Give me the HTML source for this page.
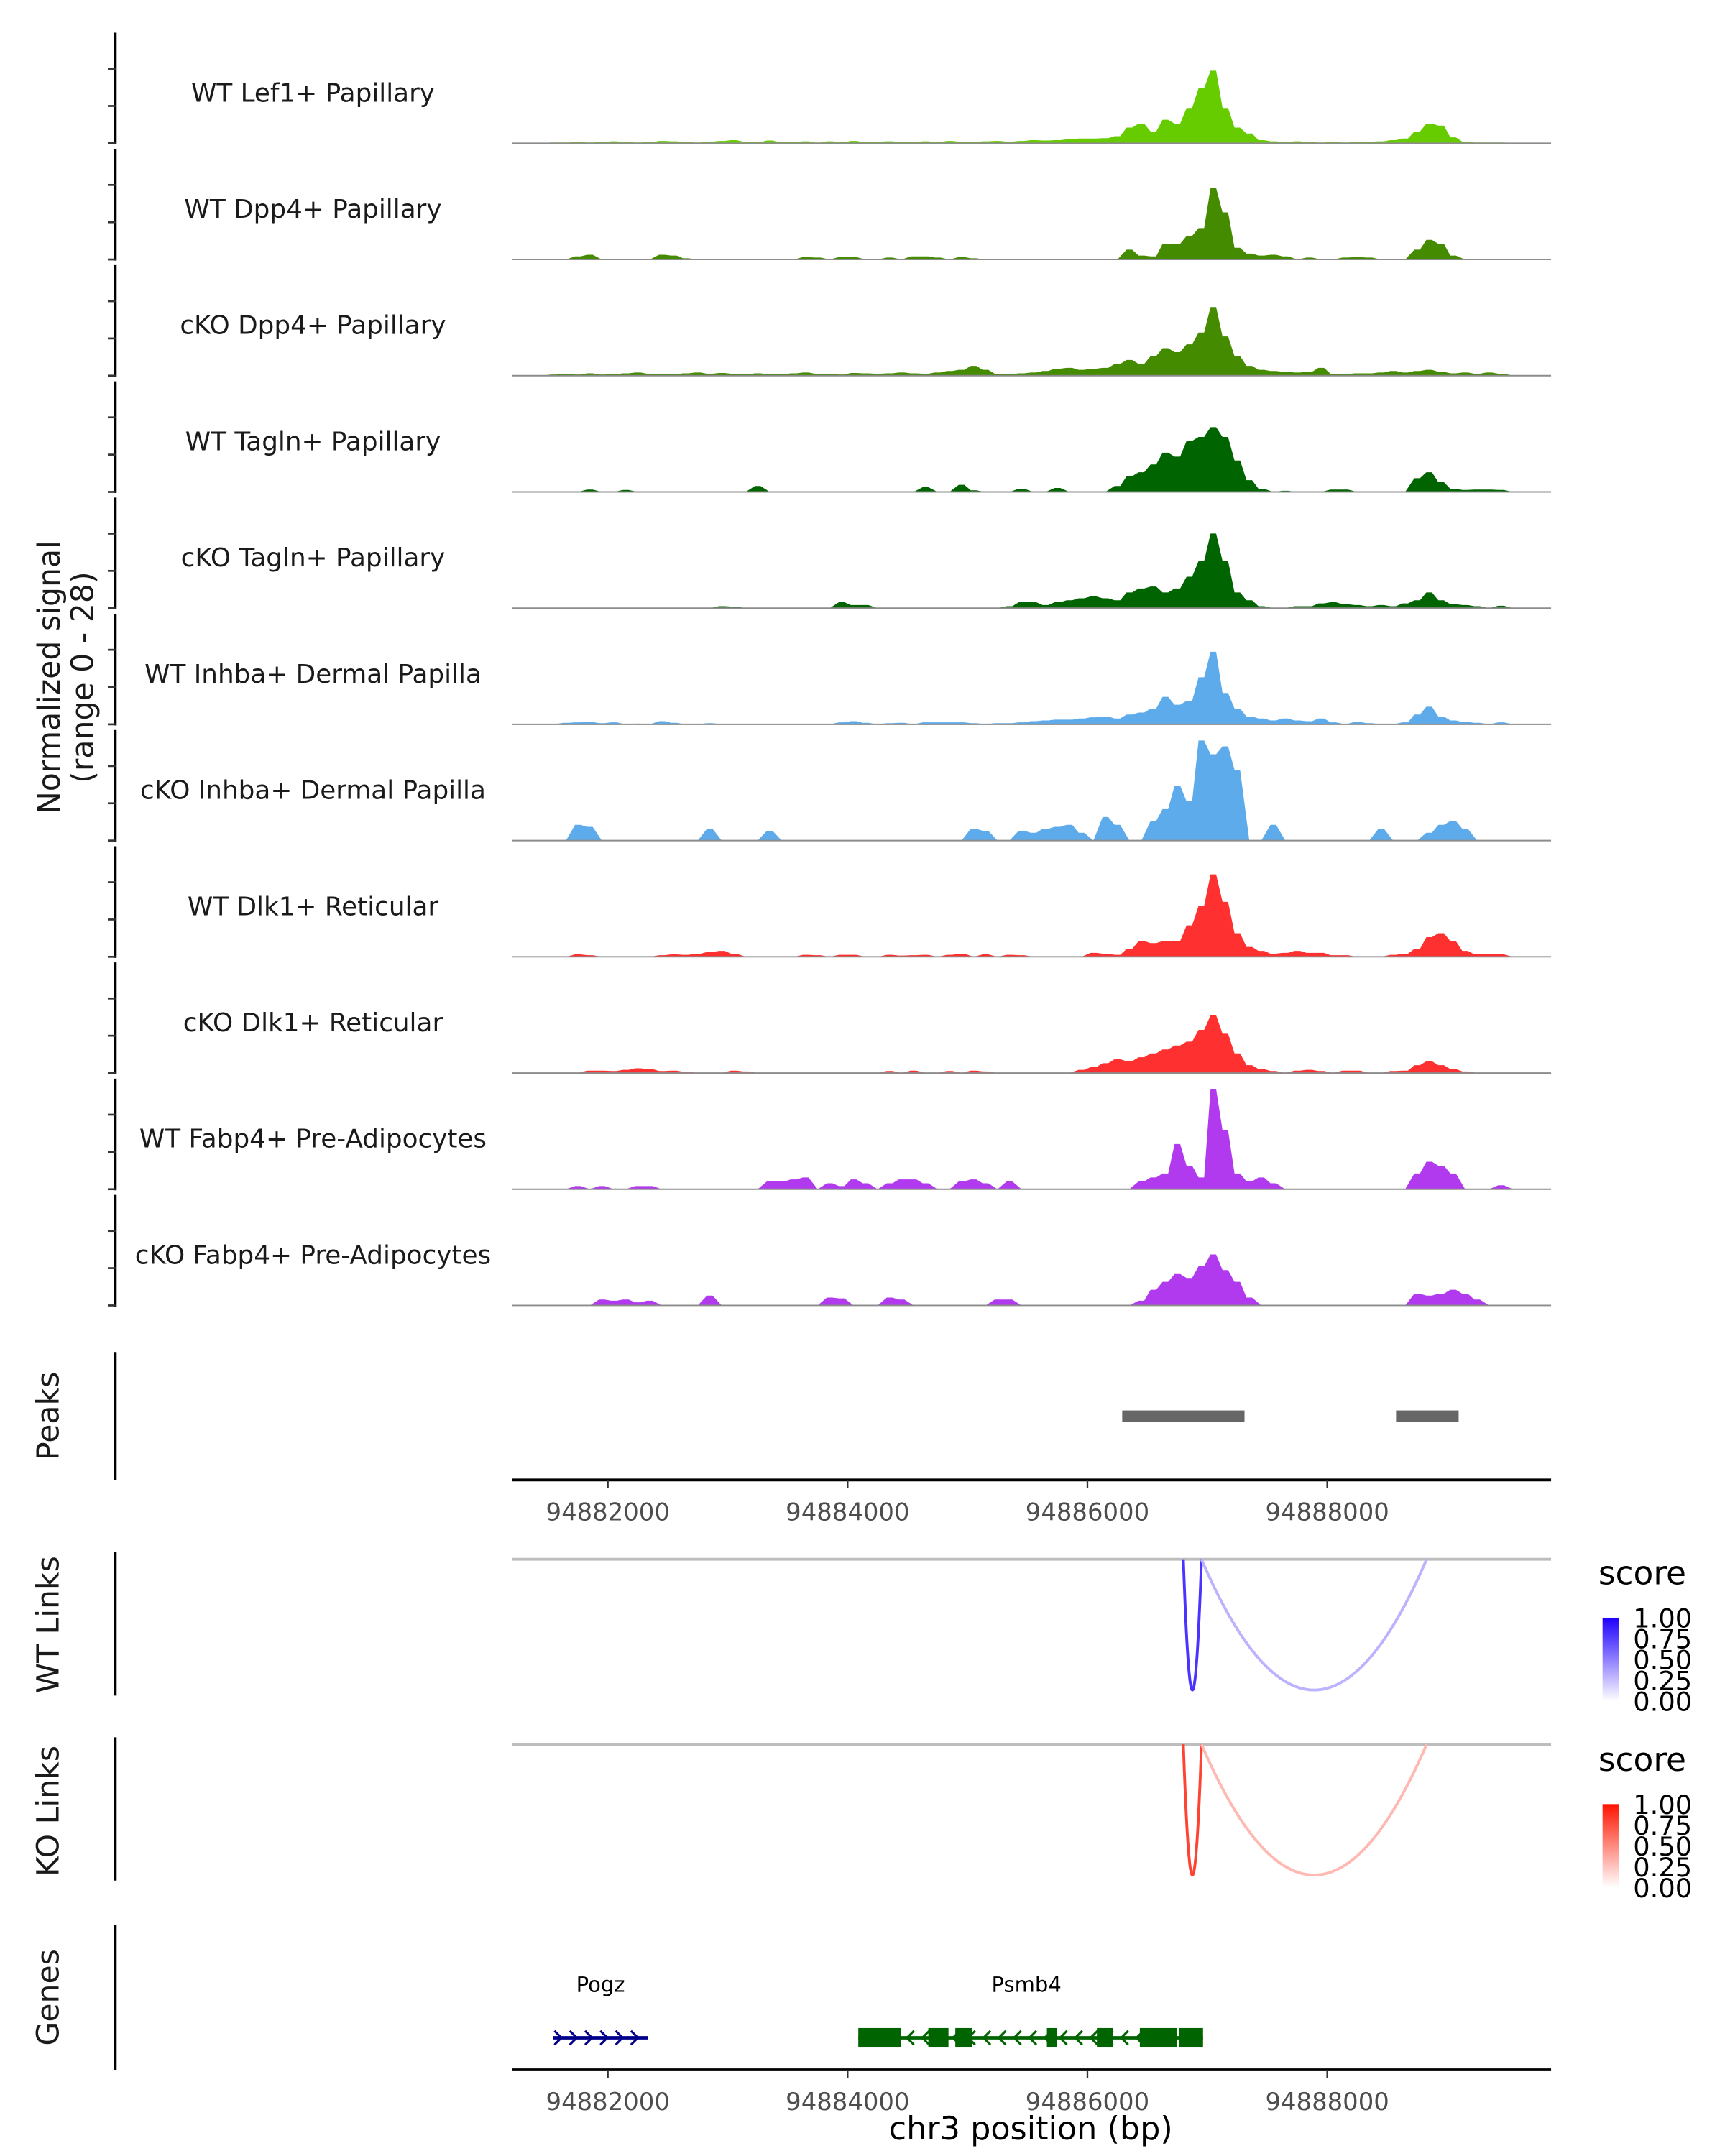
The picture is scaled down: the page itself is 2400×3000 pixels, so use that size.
<!DOCTYPE html>
<html><head><meta charset="utf-8"><style>
html,body{margin:0;padding:0;background:#fff;}
svg{display:block;font-family:"DejaVu Sans","Liberation Sans",sans-serif;}
</style></head><body>
<svg id="chart" width="2400" height="3000" viewBox="0 0 1240 1550" xmlns="http://www.w3.org/2000/svg">
<rect x="0" y="0" width="1240" height="1550" fill="#fff"/>
<g id="g-signal"></g>
<g id="g-peaks"></g>
<g id="g-links"></g>
<g id="g-genes"></g>
<text transform="translate(43,487) rotate(-90)" text-anchor="middle" font-size="22" fill="#1a1a1a">Normalized signal</text>
<text transform="translate(67,487) rotate(-90)" text-anchor="middle" font-size="22" fill="#1a1a1a">(range 0 - 28)</text>
<text transform="translate(42,1018) rotate(-90)" text-anchor="middle" font-size="22" fill="#1a1a1a">Peaks</text>
<text transform="translate(42,1168) rotate(-90)" text-anchor="middle" font-size="22" fill="#1a1a1a">WT Links</text>
<text transform="translate(42,1302) rotate(-90)" text-anchor="middle" font-size="22" fill="#1a1a1a">KO Links</text>
<text transform="translate(42,1436) rotate(-90)" text-anchor="middle" font-size="22" fill="#1a1a1a">Genes</text>
<text x="741" y="1538" text-anchor="middle" font-size="23" fill="#000">chr3 position (bp)</text>
</svg>
<script>
const NS="http://www.w3.org/2000/svg";
const trackNames=["WT Lef1+ Papillary","WT Dpp4+ Papillary","cKO Dpp4+ Papillary","WT Tagln+ Papillary","cKO Tagln+ Papillary","WT Inhba+ Dermal Papilla","cKO Inhba+ Dermal Papilla","WT Dlk1+ Reticular","cKO Dlk1+ Reticular","WT Fabp4+ Pre-Adipocytes","cKO Fabp4+ Pre-Adipocytes"];
const trackColors=["#66cc00","#458b00","#458b00","#006400","#006400","#5eabeb","#5eabeb","#ff3030","#ff3030","#b23aee","#b23aee"];
const binStart=94881400, binSize=100;
const sigLef1=[0,0.2,0.2,0.3,0.2,0.3,0.5,0.3,0.2,0.3, 0.6,0.5,0.3,0.2,0.4,0.6,0.8,0.4,0.3,0.7, 0.3,0.3,0.5,0.2,0.5,0.3,0.6,0.3,0.4,0.5, 0.3,0.3,0.5,0.3,0.6,0.4,0.3,0.5,0.6,0.4, 0.6,0.8,0.7,0.8,1.0,1.2,1.2,1.3,1.8,4, 5,3,6,5,9,14,18.5,9,4,2.5, 0.8,0.5,0.3,0.5,0.3,0.2,0.3,0.2,0.3,0.4, 0.5,0.8,1.2,3,5,4.5,1.5,0.4,0.2,0.2, 0.2,0];
const sigWTDpp4=[0,0,0,0.8,1.2,0,0,0,0,0, 1.2,1.0,0.3,0,0,0,0,0,0,0, 0,0,0.6,0.5,0,0.6,0.6,0,0,0.5, 0,0.8,0.8,0.5,0,0.6,0.3,0,0,0, 0,0,0,0,0,0,0,0,0,2.5, 1,0.8,4,4,6,8,18.2,12,3,1.5, 1,1.2,0.8,0,0.5,0,0,0.5,0.6,0.5, 0,0,0,2.5,5,4,1,0,0,0, 0,0];
const sigKODpp4=[0,0.3,0.5,0.3,0.6,0.3,0.4,0.6,0.8,0.5, 0.5,0.4,0.6,0.8,0.5,0.7,0.5,0.4,0.6,0.4, 0.4,0.6,0.8,0.5,0.4,0.3,0.7,0.6,0.5,0.6, 0.8,0.6,0.5,0.8,1.2,1.5,2.5,1.5,0.5,0.4, 0.6,0.8,1.2,1.8,2,1.5,1.8,2,3,4, 3,5,7,6,8,11,17.5,10,5,2.5, 1.5,1.2,1.0,0.8,1.0,2.0,0.5,0.4,0.6,0.6, 0.8,1.2,0.8,1.2,1.5,1.0,0.6,0.8,0.5,0.8, 0.5,0];
const sigWTTagln=[0,0,0,0,0.6,0,0,0.5,0,0, 0,0,0,0,0,0,0,0,1.5,0, 0,0,0,0,0,0,0,0,0,0, 0,0,1.2,0,0,1.8,0.4,0,0,0, 0.8,0,0,1.0,0,0,0,0,1.5,4, 5,7,10,9,13,14,16.5,14,8,3, 0.8,0,0.3,0,0,0,0.6,0.6,0,0, 0,0,0,3.5,5,2.5,0.8,0.5,0.6,0.6, 0.5,0];
const sigKOTagln=[0,0,0,0,0,0,0,0,0,0, 0,0,0,0,0,0.5,0.4,0,0,0, 0,0,0,0,0,1.5,0.8,0.8,0,0, 0,0,0,0,0,0,0,0,0,0.5, 1.5,1.5,0.8,1.5,2,2.5,3,2.5,2,4, 5,5.5,4,5,8,12,19,12,4,2, 0.5,0,0,0.5,0.5,1.2,1.5,1.0,0.8,0.5, 0.8,0.5,1.2,2,4,2,1,0.8,0.5,0, 0.6,0];
const sigWTInhba=[0,0,0.4,0.5,0.6,0.3,0.5,0,0.2,0, 0.8,0.4,0,0,0.3,0,0,0,0,0, 0,0,0,0,0,0.5,0.8,0.4,0,0.3, 0.4,0,0.5,0.5,0.5,0.5,0.3,0,0.3,0.3, 0.5,0.8,1.0,1.2,1.2,1.5,1.8,2,1.5,2.5, 3,4,7,5,6,12,18.5,8,4,2, 1.5,1,1.5,1,0.8,1.5,0.5,0,0.6,0.3, 0,0,0.5,2.5,4.5,2,1.0,0.6,0.4,0, 0.5,0];
const sigKOInhba=[0,0,0,4,3.5,0,0,0,0,0, 0,0,0,0,3,0,0,0,0,2.5, 0,0,0,0,0,0,0,0,0,0, 0,0,0,0,0,0,3,2.5,0,0, 2.5,2,3,3.5,4,2,0,6,4,0, 0,5,8,14,10,25.5,22,24,18,0, 0,4,0,0,0,0,0,0,0,0, 3,0,0,0,2,4,5,3,0,0, 0,0];
const sigWTDlk1=[0,0,0,0.6,0.4,0,0,0,0,0, 0.4,0.6,0.5,0.8,1.2,1.5,0.8,0,0,0, 0,0,0.5,0.4,0,0.5,0.5,0,0,0.5, 0.3,0.4,0.5,0,0.5,0.8,0,0.6,0,0.5, 0.4,0,0,0,0,0,1.0,0.8,0.5,2, 4,3.5,4,4,8,13,21,14,6,2.5, 1.5,0.8,1,1.5,1,1,0.4,0.4,0,0, 0,0.5,0.8,2,5,6,4,1.5,0.6,0.8, 0.6,0];
const sigKODlk1=[0,0,0,0,0.6,0.6,0.5,0.8,1.2,1.0, 0.5,0.6,0.3,0,0,0,0.6,0.4,0,0, 0,0,0,0,0,0,0,0,0,0.5, 0,0.6,0,0,0.5,0,0.6,0.4,0,0, 0,0,0,0,0,0.8,1.5,2.5,3.5,3, 4,5,6,7,8,11,14.7,10,5,2, 1,0.5,0,0.6,0.8,0.5,0,0.6,0.6,0, 0,0.5,0.6,2,3,2,1.0,0.4,0,0, 0,0];
const sigWTFabp4=[0,0,0,0.8,0,0.8,0,0,0.8,0.8, 0,0,0,0,0,0,0,0,0,2, 2,2.5,3,0,1.5,0.8,2.5,1.5,0,1.5, 2.5,2.5,1.5,0,0,2,2.5,1.5,0,2, 0,0,0,0,0,0,0,0,0,0, 2,3,4,11.5,6,3,25.5,15,4,2, 3,1.5,0,0,0,0,0,0,0,0, 0,0,0,4,7,6,4,0,0,0, 1,0];
const sigKOFabp4=[0,0,0,0,0,1.5,1.2,1.5,0.8,1.2, 0,0,0,0,2.5,0,0,0,0,0, 0,0,0,0,2,1.8,0,0,0,2, 1.5,0,0,0,0,0,0,0,1.5,1.5, 0,0,0,0,0,0,0,0,0,0, 1.2,4,6,8,7,10,13,9,6,2, 0,0,0,0,0,0,0,0,0,0, 0,0,0,3,2.5,3,4,3,1.5,0, 0,0];
const signals=[sigLef1,sigWTDpp4,sigKODpp4,sigWTTagln,sigKOTagln,sigWTInhba,sigKOInhba,sigWTDlk1,sigKODlk1,sigWTFabp4,sigKOFabp4];
const xTicks=[94882000,94884000,94886000,94888000];
const peakStarts=[94886290,94888574];
const peakEnds=[94887310,94889096];
const wtLinkStarts=[94886800,94886951];
const wtLinkEnds=[94886951,94888829];
const wtLinkScores=[0.8,0.3];
const koLinkStarts=[94886800,94886951];
const koLinkEnds=[94886951,94888829];
const koLinkScores=[0.8,0.3];
const legendTicks=["1.00","0.75","0.50","0.25","0.00"];
const geneNames=["Pogz","Psmb4"];
const geneStarts=[94881543,94884089];
const geneEnds=[94882336,94886964];
const geneStrands=[1,-1];
const psmb4ExonStarts=[94884089,94884673,94884898,94885662,94886079,94886437,94886761];
const psmb4ExonEnds=[94884447,94884841,94885037,94885743,94886212,94886744,94886964];

const X0=368,X1=1115,BP0=94881200,BP1=94889867;
const xs=bp=>X0+(bp-BP0)/(BP1-BP0)*(X1-X0);
const YMAX=28,TRACK_H=79,base0=103,step=83.55;
function mk(tag,attrs,parent){const e=document.createElementNS(NS,tag);for(const k in attrs)e.setAttribute(k,attrs[k]);parent.appendChild(e);return e;}
const gS=document.getElementById('g-signal');
for(let t=0;t<signals.length;t++){
  const b=base0+t*step;
  const ys=v=>b-v/YMAX*TRACK_H;
  const ax=mk('line',{x1:83,x2:83,y1:b-79.5,y2:b+0.8,stroke:'#000','stroke-width':1.7},gS);
  
  
  for(let k=0;k<3;k++){const tk=mk('line',{x1:77.5,x2:83,y1:b-k*26.8,y2:b-k*26.8,stroke:'#333','stroke-width':1.4},gS);
    
    }
  const arr=signals[t];
  let d='M'+xs(binStart).toFixed(2)+','+b;
  for(let i=0;i<arr.length;i++){
    const xc=xs(binStart+(i+0.5)*binSize);
    const y=ys(arr[i]);
    if(arr[i]===0){d+=' L'+xc.toFixed(2)+','+b;continue;}
    d+=' L'+(xc-2).toFixed(2)+','+y.toFixed(2)+' L'+(xc+2).toFixed(2)+','+y.toFixed(2);
  }
  d+=' L'+xs(binStart+arr.length*binSize).toFixed(2)+','+b+' Z';
  const area=mk('path',{d:d,fill:trackColors[t],stroke:'none'},gS);
  
  
  const bl=mk('line',{x1:X0,x2:X1,y1:b,y2:b,stroke:'#8c8c8c','stroke-width':1},gS);
  
  
  const lab=mk('text',{x:225,y:b-30,'text-anchor':'middle','font-size':'18.5','fill':'#1a1a1a'},gS);
  lab.textContent=trackNames[t];
  
  
}
const gP=document.getElementById('g-peaks');
let e=mk('line',{x1:83,x2:83,y1:972,y2:1064,stroke:'#000','stroke-width':1.7},gP);


for(let i=0;i<peakStarts.length;i++){const r=mk('rect',{x:xs(peakStarts[i]),y:1014,width:xs(peakEnds[i])-xs(peakStarts[i]),height:8,fill:'#666'},gP);
  
  }
function xAxis(y,parent,nm){
  const a=mk('line',{x1:X0,x2:X1,y1:y,y2:y,stroke:'#000','stroke-width':2},parent);
  
  
  xTicks.forEach(v=>{const tk=mk('line',{x1:xs(v),x2:xs(v),y1:y,y2:y+6,stroke:'#333','stroke-width':1.2},parent);
    
    
    const tl=mk('text',{x:xs(v),y:y+29,'text-anchor':'middle','font-size':'17.5',fill:'#4d4d4d'},parent);tl.textContent=v;
    
    });
}
xAxis(1064,gP,'peaks-x-axis');
const gL=document.getElementById('g-links');
function mix(c,s){return 'rgb('+c.map(v=>Math.round(255+(v-255)*s)).join(',')+')';}
function linkPanel(top,starts,ends,scores,col,legY,nm){
  const ax=mk('line',{x1:83,x2:83,y1:top-5,y2:top+98,stroke:'#000','stroke-width':1.7},gL);
  
  
  const bl=mk('line',{x1:X0,x2:X1,y1:top,y2:top,stroke:'#bdbdbd','stroke-width':2},gL);
  
  
  const depth=94;
  for(let i=0;i<starts.length;i++){const a=xs(starts[i]),b=xs(ends[i]);
    let d='';
    for(let k=0;k<=60;k++){const u=k/60;const x=a+(b-a)*u;const y=top+depth*(1-Math.pow(2*u-1,2));d+=(k?' L':'M')+x.toFixed(2)+','+y.toFixed(2);}
    const p=mk('path',{d:d,fill:'none',stroke:mix(col,scores[i]),'stroke-width':2,'stroke-linejoin':'round'},gL);
    
    }
  const lt=mk('text',{x:1149,y:legY,'font-size':'23.5',fill:'#000'},gL);lt.textContent='score';
  
  
  const gid='grad'+nm;
  const defs=mk('defs',{},gL);const gr=mk('linearGradient',{id:gid,x1:0,y1:1,x2:0,y2:0},defs);
  mk('stop',{offset:'0','stop-color':'#fff'},gr);mk('stop',{offset:'1','stop-color':mix(col,1)},gr);
  const by=legY+24;
  const bar=mk('rect',{x:1152,y:by,width:12,height:60,fill:`url(#${gid})`},gL);
  
  
  legendTicks.forEach((s,i)=>{const yy=by+i*15;
    const tt=mk('text',{x:1174,y:yy+7,'font-size':'19',fill:'#000'},gL);tt.textContent=s;
    
    });
}
linkPanel(1121,wtLinkStarts,wtLinkEnds,wtLinkScores,[30,0,255],1139,'wt-links');
linkPanel(1254,koLinkStarts,koLinkEnds,koLinkScores,[255,20,0],1273,'ko-links');
const gG=document.getElementById('g-genes');
e=mk('line',{x1:83,x2:83,y1:1384,y2:1488,stroke:'#000','stroke-width':1.7},gG);


const geneCols=['#00008b','#006400'];
const GY=1465;
for(let g=0;g<geneNames.length;g++){
  const a=xs(geneStarts[g]),b=xs(geneEnds[g]);
  const ln=mk('line',{x1:a,x2:b,y1:GY,y2:GY,stroke:geneCols[g],'stroke-width':2.5},gG);
  
  
  for(let x=a+4;x<b-2;x+=11){const s=geneStrands[g];
    const ch=mk('polyline',{points:`${x-3*s},${GY-5} ${x+2*s},${GY} ${x-3*s},${GY+5}`,fill:'none',stroke:geneCols[g],'stroke-width':1.6},gG);
    
    }
  const lb=mk('text',{x:xs((geneStarts[g]+geneEnds[g])/2)+(g==0?0:-3),y:1432,'text-anchor':'middle','font-size':'15','fill':'#000'},gG);
  lb.textContent=geneNames[g];
  
  
}
for(let i=0;i<psmb4ExonStarts.length;i++){const a=xs(psmb4ExonStarts[i]),b=xs(psmb4ExonEnds[i]);
  const r=mk('rect',{x:a,y:GY-7,width:b-a,height:14,fill:'#006400'},gG);
  
  }
xAxis(1488,gG,'x-axis');
</script>
</body></html>
